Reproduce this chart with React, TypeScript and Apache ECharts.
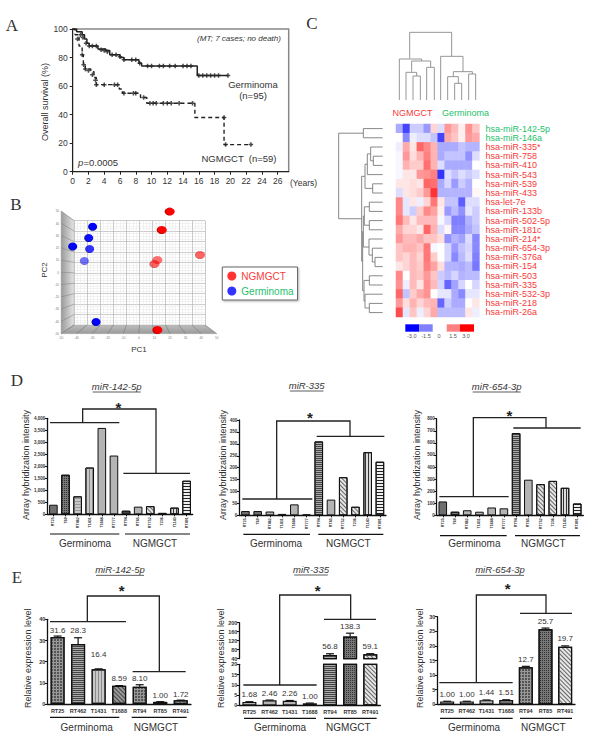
import React, { useEffect, useRef } from "react";
import * as echarts from "echarts";

// ---------- Data ----------
const germSteps = [[0,100],[0.5,98],[1.2,96],[1.5,93],[1.8,90],[2.1,88],[3.2,86],[4.2,85],[4.7,82],[6,80],[6.5,78.5],[8.4,76],[8.75,74],[15.8,67.5],[19.7,67.5]];
const ngSteps = [[0,100],[0.3,96],[0.8,88],[1.2,82],[1.35,75],[1.6,72],[2.3,70],[2.7,66],[3,61],[5.9,58],[6.3,55],[8.6,52],[9.4,48],[15.5,38],[19.2,19],[22.7,19]];
const germCensor = [[1.0,96],[1.3,94],[1.7,90],[2.1,88],[2.5,88],[3,88],[3.6,85.5],[4,85],[4.4,84],[5,82],[5.5,82],[6,80.5],[6.5,78.5],[7.5,78.5],[8,78.5],[8.5,76],[9.5,74],[10,74],[11,74],[11.5,74],[12.3,74],[13,74],[14,74],[14.5,74],[15,74],[16,67.5],[16.5,67.5],[17,67.5],[17.5,67.5],[18,67.5],[18.5,67.5],[19.7,67.5]];
const ngCensor = [[0.6,93],[1.2,82],[1.4,75],[1.6,72],[2,71],[2.5,68],[2.9,64],[3,61],[4,61],[5.3,61],[5.7,61],[6.5,55],[7.7,55],[8,55],[9,52],[9.8,48],[10.2,48],[10.6,48],[11.5,48],[12,48],[12.5,48],[13.5,48],[15.2,48],[19.2,38],[19.4,19],[22.6,19]];

const pcaRed = [[19.8,49.5,1],[14.7,34.5,1],[11.9,10.1,0.55],[10,6.8,0.6],[39.3,14.1,0.6],[11.9,-47,1]];
const pcaBlue = [[-29.7,37.2,1],[-32.2,28,0.95],[-42.5,21,1],[-31.6,19,0.8],[-35,9.2,0.55],[-27.5,-40.5,1]];

const mirnas = ["hsa-miR-142-5p","hsa-miR-146a","hsa-miR-335*","hsa-miR-758","hsa-miR-410","hsa-miR-543","hsa-miR-539","hsa-miR-433","hsa-let-7e","hsa-miR-133b","hsa-miR-502-5p","hsa-miR-181c","hsa-miR-214*","hsa-miR-654-3p","hsa-miR-376a","hsa-miR-154","hsa-miR-503","hsa-miR-335","hsa-miR-532-3p","hsa-miR-218","hsa-miR-26a"];
const heatRows = [
 [-1,-2.2,-0.6,-0.6,-1.2,0.5,-0.4,1.2,0.8,0.2,1.3,0.7],
 [0,-1.4,-0.2,-0.4,-0.4,-0.7,-2.2,1,0.7,0.2,1.2,1],
 [-0.2,1,0.3,1.8,1.4,0.9,-1,-1,-1,-0.7,-0.9,-0.9],
 [-0.1,1.2,0.4,0.9,1.5,0.9,-1,-0.7,-0.7,-0.7,-1.3,-0.4],
 [-0.1,0.9,0.6,0.6,1.7,0.9,-0.4,-1,-1,-1,-1,0],
 [-0.1,0.3,0.3,1.2,1.3,1.5,-2.4,-0.4,-0.7,-0.4,-0.6,-0.4],
 [0.3,0.3,0.4,0.3,1.8,1.7,-1,-0.5,-1.2,-0.6,-0.9,0],
 [-0.4,0.3,0.4,0.6,1.2,2.4,-0.9,-0.9,-0.9,-0.9,-0.9,0.1],
 [1.4,-0.3,0.3,-0.2,0.5,1.6,0.3,-0.7,-0.7,-1.9,-0.4,-0.4],
 [1.4,-0.3,-0.6,0.6,1.4,1.1,0.2,-1.2,-0.8,-1.3,-0.3,-0.6],
 [1.6,0.8,0.3,0.8,0.8,0.8,-0.1,-0.5,-1.5,-1.5,-0.9,-0.6],
 [1,0.5,0.5,0.3,1.8,0.9,-0.4,0.1,-1.4,-1.4,-1,-0.7],
 [1.2,0.8,0.8,1,0.7,0.7,0.4,-1.3,-0.9,-1.1,-0.4,-1.4],
 [0.7,0.9,0.9,0.7,1.6,-0.1,0,-0.5,-1.2,-0.7,-0.5,-1.4],
 [0.7,0.5,0.8,0.5,1.6,0.6,0,-0.5,-1.4,-0.8,-0.4,-1.5],
 [0.3,0.5,0.8,0.6,1.5,1.1,0.4,-0.9,-0.9,-1,-0.8,-1.6],
 [1.4,0,0.8,0.7,1.2,0.7,-0.6,-0.8,-0.5,-0.9,-0.8,-0.8],
 [1.3,-0.2,0.8,0.3,1.3,0.8,-0.5,-1.8,-1.1,-0.5,0,-0.5],
 [1.8,-0.7,0.6,1,1.3,0,-0.3,-0.3,-1,-1.4,-0.3,-0.3],
 [1.2,0.4,0.9,0.5,0.8,0.9,-1.8,-0.6,-1,-1,0,0.3],
 [2.1,-0.3,0.7,-0.2,0.5,1,-0.8,-0.8,-0.8,-0.8,0.3,-0.2],
];
const colorbarTicks = ["-3.0","-1.5","0","1.5","3.0"];

const d1Cats = ["RT25","T60","RT462","T1431","T1688","RT777","RT94","RT85","RT752","T236","T1143","RT491"];
const d1Vals = [400,1650,750,1950,3600,2450,150,320,340,60,280,1400];
const d2Vals = [18,18,16,6,46,4,310,66,160,36,265,225];
const d3Vals = [115,30,42,30,65,58,680,295,258,285,228,98];
const d1Hatch = ["dark","check","hLight","vLight","gray","gray","hDark","gray","diag","hLight","vDark","hBlack"];
const d2Hatch = ["dark","dark","gray","gray","gray","gray","hDark","gray","diag","diag","vDark","hBlack"];
const d3Hatch = ["dark","check","gray","gray","gray","gray","hDark","gray","diag","diag","vDark","hBlack"];

const eCats = ["RT25","RT462","T1431","T1688","RT94","RT85","RT491"];
const e1Vals = [31.6,28.3,16.4,8.59,8.10,1.00,1.72];
const e1Errs = [0.5,3,0.2,0.1,1,0.1,0.1];
const e1Text = ["31.6","28.3","16.4","8.59","8.10","1.00","1.72"];
const e2Vals = [1.68,2.46,2.26,1.00,56.8,138.3,59.1];
const e2Errs = [0.1,0.1,0.1,0.1,5,15,3];
const e2Text = ["1.68","2.46","2.26","1.00","56.8","138.3","59.1"];
const e3Vals = [1.00,1.00,1.44,1.51,12.7,25.7,19.7];
const e3Errs = [0.05,0.05,0.05,0.05,0.3,0.4,0.3];
const e3Text = ["1.00","1.00","1.44","1.51","12.7","25.7","19.7"];
const e1Hatch = ["grid","hDark","vLight","diagDark","grid","check","diag"];
const e2Hatch = ["gray","gray","gray","dark","hDark","check","diag"];
const e3Hatch = ["gray","gray","gray","dark","grid","check","diag"];

// ---------- Helpers ----------
const SANS = '"Liberation Sans", Arial, sans-serif';
const SERIF = '"Liberation Serif", serif';
const INK = "#333";
const fills: any = {
  dark: { c: "#6f6f6f" }, gray: { c: "#b4b4b4" },
  check: { c: "#777", d: { symbol: "rect", symbolSize: 1, dashArrayX: [1, 1], dashArrayY: [1, 1], color: "#333" } },
  hLight: { c: "#c8c8c8", d: { symbol: "rect", symbolSize: 1, dashArrayX: [1, 0], dashArrayY: [1, 1.5], color: "#999" } },
  vLight: { c: "#c8c8c8", d: { symbol: "rect", symbolSize: 1, dashArrayX: [1, 0], dashArrayY: [1, 1.5], rotation: Math.PI / 2, color: "#8a8a8a" } },
  hDark: { c: "#aaa", d: { symbol: "rect", symbolSize: 1, dashArrayX: [1, 0], dashArrayY: [1, 1], color: "#444" } },
  vDark: { c: "#ddd", d: { symbol: "rect", symbolSize: 1, dashArrayX: [1, 0], dashArrayY: [1, 1.5], rotation: Math.PI / 2, color: "#333" } },
  hBlack: { c: "#eee", d: { symbol: "rect", symbolSize: 1, dashArrayX: [1, 0], dashArrayY: [1, 2], color: "#222" } },
  diag: { c: "#e6e6e6", d: { symbol: "rect", symbolSize: 1, dashArrayX: [1, 0], dashArrayY: [1, 1.5], rotation: Math.PI / 4, color: "#666" } },
  diagDark: { c: "#999", d: { symbol: "rect", symbolSize: 1, dashArrayX: [1, 0], dashArrayY: [1, 1.5], rotation: Math.PI / 4, color: "#444" } },
  grid: { c: "#999", d: { symbol: "rect", symbolSize: 1, dashArrayX: [2, 1], dashArrayY: [2, 1], color: "#555" } },
};

function buildOption() {
  const grids: any[] = [], xAxes: any[] = [], yAxes: any[] = [], series: any[] = [], gfx: any[] = [];

  const text = (x: number, y: number, t: string, size: number, o: any = {}) =>
    gfx.push({
      type: "text", x, y, rotation: o.rot || 0, z: 20, silent: true,
      style: {
        text: t, fill: o.fill || INK, textAlign: o.align || "center", textVerticalAlign: "middle", verticalAlign: "middle",
        font: `${o.style || "normal"} ${o.weight || "normal"} ${size}px ${o.family || SANS}`,
      },
    });
  const poly = (pts: number[][], color: string, width = 1.4) =>
    gfx.push({ type: "polyline", z: 15, silent: true, shape: { points: pts }, style: { stroke: color, lineWidth: width, fill: "none" } });

  // panel letters
  text(12, 25, "A", 17, { family: SERIF });
  text(16, 204, "B", 17, { family: SERIF });
  text(312, 23, "C", 17, { family: SERIF });
  text(17, 380, "D", 17, { family: SERIF });
  text(17, 577, "E", 17, { family: SERIF });

  // ---------- Panel A ----------
  {
    const g = grids.length;
    grids.push({ left: 72.7, top: 29, width: 216, height: 142.7, show: true, borderColor: "#888", borderWidth: 1.5, backgroundColor: "transparent" });
    const lab = { color: INK, fontSize: 8.5, fontFamily: SANS, margin: 5 };
    xAxes.push({ gridIndex: g, type: "value", min: 0, max: 27.4, interval: 2, splitLine: { show: false }, axisLine: { onZero: false, lineStyle: { color: "#222" } }, axisTick: { length: 3, lineStyle: { color: "#222" } }, axisLabel: { ...lab, showMaxLabel: false } });
    yAxes.push({ gridIndex: g, type: "value", min: 0, max: 100, interval: 20, splitLine: { show: false }, axisLine: { show: true, onZero: false, lineStyle: { color: "#222" } }, axisTick: { show: true, length: 3, lineStyle: { color: "#222" } }, axisLabel: lab });
    const x = xAxes.length - 1, y = yAxes.length - 1;
    const plus = "path://M-1,-3H1V-1H3V1H1V3H-1V1H-3V-1H-1Z";
    series.push({ type: "line", name: "Germinoma survival", xAxisIndex: x, yAxisIndex: y, step: "end", showSymbol: false, data: germSteps, lineStyle: { color: "#222", width: 1.5 } });
    series.push({ type: "line", name: "NGMGCT survival", xAxisIndex: x, yAxisIndex: y, step: "end", showSymbol: false, data: ngSteps, lineStyle: { color: "#222", width: 1.4, type: [4, 3] } });
    series.push({ type: "scatter", name: "Germinoma censored", xAxisIndex: x, yAxisIndex: y, symbol: plus, symbolSize: 4.5, data: germCensor, itemStyle: { color: "#222" } });
    series.push({ type: "scatter", name: "NGMGCT censored", xAxisIndex: x, yAxisIndex: y, symbol: plus, symbolSize: 4.5, data: ngCensor, itemStyle: { color: "#222" } });
    text(45, 102, "Overall survival (%)", 9, { rot: Math.PI / 2 });
    text(239, 38, "(MT; 7 cases; no death)", 8, { style: "italic" });
    text(253, 84, "Germinoma", 9.5);
    text(253, 95, "(n=95)", 9.5);
    text(239, 158, "NGMGCT  (n=59)", 9.5);
    text(78, 162, "p", 9.5, { style: "italic", align: "left" });
    text(83.5, 162, "=0.0005", 9.5, { align: "left" });
    text(290, 182.7, "(Years)", 8.5, { align: "left" });
  }

  // ---------- Panel B ----------
  {
    const z = (a: number, b: number) => [a / 3, 190 + b / 3];
    gfx.push({
      type: "polygon", z: -1, silent: true,
      shape: { points: [z(183, 63), z(222, 92), z(222, 405), z(183, 431)] },
      style: { fill: new echarts.graphic.LinearGradient(0, 0, 1, 0, [{ offset: 0, color: "#999" }, { offset: 1, color: "#e4e4e4" }]), stroke: "#bbb", lineWidth: 0.5 },
    });
    gfx.push({
      type: "polygon", z: -1, silent: true,
      shape: { points: [z(222, 405), z(615, 405), z(650, 431), z(183, 431)] },
      style: { fill: new echarts.graphic.LinearGradient(0, 0, 0, 1, [{ offset: 0, color: "#bdbdbd" }, { offset: 1, color: "#9a9a9a" }]), stroke: "#aaa", lineWidth: 0.5 },
    });
    for (let k = 0; k <= 10; k++) {
      gfx.push({ type: "polyline", z: 1, silent: true, shape: { points: [z(183, 63 + 36.8 * k), z(222, 92 + 31.3 * k)] }, style: { stroke: "#888", lineWidth: 0.6, fill: "none" } });
      gfx.push({ type: "polyline", z: 1, silent: true, shape: { points: [z(222 + 39.3 * k, 405), z(183 + 46.7 * k, 431)] }, style: { stroke: "#777", lineWidth: 0.6, fill: "none" } });
    }
    // back wall
    let g = grids.length;
    grids.push({ left: 74, top: 220.7, width: 131, height: 104.3 });
    const wall = () => ({ gridIndex: g, type: "value", min: 0, max: 10, interval: 1, axisLine: { show: false }, axisTick: { show: false }, axisLabel: { show: false }, splitLine: { show: true, lineStyle: { color: "#b5b5b5", width: 0.7 } }, minorSplitLine: { show: true, lineStyle: { color: "#e6e6e6", width: 0.5 } }, minorTick: { show: false, splitNumber: 4 } });
    xAxes.push(wall()); yAxes.push(wall());

    // front plane holding the points
    g = grids.length;
    grids.push({ left: 61, top: 211, width: 155.7, height: 122.7 });
    const tiny = { color: "#777", fontSize: 3, fontFamily: SANS, margin: 2 };
    xAxes.push({ gridIndex: g, type: "value", min: -50, max: 50, interval: 10, splitLine: { show: false }, axisLine: { show: false, onZero: false }, axisTick: { show: false }, axisLabel: tiny });
    yAxes.push({ gridIndex: g, type: "value", min: -50, max: 50, interval: 10, splitLine: { show: false }, axisLine: { show: false, onZero: false }, axisTick: { show: false }, axisLabel: tiny });
    const x = xAxes.length - 1, y = yAxes.length - 1;
    const ball = (c: string, dk: string) => ({ type: "radial", x: 0.6, y: 0.45, r: 0.65, colorStops: [{ offset: 0, color: c }, { offset: 0.65, color: c }, { offset: 1, color: dk }] });
    series.push({
      type: "scatter", name: "NGMGCT", xAxisIndex: x, yAxisIndex: y, symbol: "circle", symbolSize: [10, 8], z: 5,
      itemStyle: { color: "#f00" },
      data: pcaRed.map((p) => ({ value: [p[0], p[1]], itemStyle: { color: ball("#f00", "#800"), opacity: p[2] } })),
    });
    series.push({
      type: "scatter", name: "Germinoma", xAxisIndex: x, yAxisIndex: y, symbol: "circle", symbolSize: [9, 8], z: 5,
      itemStyle: { color: "#00e" },
      data: pcaBlue.map((p) => ({ value: [p[0], p[1]], itemStyle: { color: ball("#00f", "#006"), opacity: p[2] } })),
    });
    text(139, 349, "PC1", 8);
    text(44, 270, "PC2", 8, { rot: Math.PI / 2 });
  }

  // ---------- Panel C ----------
  {
    const g = grids.length;
    grids.push({ left: 396, top: 124, width: 83.4, height: 193 });
    xAxes.push({ gridIndex: g, type: "category", data: heatRows[0].map((_, i) => String(i)), show: false });
    yAxes.push({
      gridIndex: g, type: "category", inverse: true, position: "right", data: mirnas, axisLine: { show: false }, axisTick: { show: false }, splitLine: { show: false },
      axisLabel: { interval: 0, margin: 6, fontSize: 9, fontFamily: SANS, color: (v: string) => (v === "hsa-miR-142-5p" || v === "hsa-miR-146a" ? "#25bf6b" : "#f83a3a") },
    });
    const data: any[] = [];
    heatRows.forEach((r, i) => r.forEach((v, j) => data.push([j, i, v])));
    series.push({ type: "heatmap", name: "expression", xAxisIndex: xAxes.length - 1, yAxisIndex: yAxes.length - 1, data, itemStyle: { borderWidth: 0 } });

    text(412.5, 113, "NGMGCT", 9, { fill: "#f83a3a" });
    text(465.5, 113, "Germinoma", 9, { fill: "#25bf6b" });

    // column dendrogram
    const t = (pts: number[][]) => poly(pts.map(([a, b]) => [310 + a / 3, b / 3]), "#8a8a8a", 0.9);
    t([[299, 175], [299, 97], [425, 97], [425, 168]]);
    t([[268, 300], [268, 177], [335, 177], [335, 183]]);
    t([[305, 215], [305, 183], [362, 183], [362, 202]]);
    t([[350, 300], [350, 202], [373, 202], [373, 300]]);
    t([[288, 300], [288, 217], [320, 217], [320, 228]]);
    t([[309, 300], [309, 228], [331, 228], [331, 300]]);
    t([[392, 300], [392, 169], [459, 169], [459, 215]]);
    t([[430, 230], [430, 215], [487, 215], [487, 222]]);
    t([[476, 300], [476, 222], [497, 222], [497, 300]]);
    t([[413, 300], [413, 230], [445, 230], [445, 250]]);
    t([[434, 300], [434, 250], [455, 250], [455, 300]]);

    // row dendrogram (nested merges, with leaf = row index)
    const rowY = (i: number) => -4.2 + 27.6 * i;
    const R = (pts: number[][]) => poly(pts.map(([a, b]) => [310 + a / 3, 130 + b / 3]), "#7a7a7a", 0.9);
    const walk = (n: any): { x: number; y: number } => {
      if (typeof n === "number") return { x: 218, y: rowY(n) };
      const a = walk(n[1]), b = walk(n[2]);
      R([[a.x, a.y], [n[0], a.y], [n[0], b.y], [b.x, b.y]]);
      return { x: n[0], y: (a.y + b.y) / 2 };
    };
    walk([86, [160, 0, 1], [155,
      [165, [172, [182, 2, [190, 3, 4]], 5], [188, 6, 7]],
      [158,
        [160, [163, [178, 8, 9], [178, 10, 11]], [177, 12, [187, 13, [195, 14, 15]]]],
        [162, [178, 16, 17], [165, 18, [178, 19, 20]]]]]]);

    // colour key
    const keys = [[405.3, 14, "#0000ff"], [419.3, 13.4, "#8080ff"], [446.7, 13.3, "#ff8080"], [460, 14, "#ff0000"]];
    keys.forEach(([x, w, c]: any) => gfx.push({ type: "rect", z: 5, silent: true, shape: { x, y: 324.3, width: w, height: 7.4 }, style: { fill: c } }));
    [411.7, 426, 439, 453, 466].forEach((x, i) => text(x, 335.5, colorbarTicks[i], 5.5, { fill: "#555" }));
  }

  // ---------- Panels D and E ----------
  const addPanel = (p: any) => {
    const { ox, oy } = p;
    const Z = (pts: number[][]) => pts.map(([a, b]) => [ox + a / 3, oy + b / 3]);
    const left = ox + p.gx / 3, width = p.gw / 3;
    const bands = p.bands;
    bands.forEach((b: any, idx: number) => {
      const g = grids.length;
      grids.push({ left, width, top: oy + b.zTop / 3, height: (b.zBot - b.zTop) / 3 });
      const isBottom = idx === bands.length - 1;
      xAxes.push({
        gridIndex: g, type: "category", data: p.cats, show: isBottom,
        axisLine: { lineStyle: { color: "#111", width: 1.3 }, onZero: false }, axisTick: { show: p.tick !== false, length: 2, lineStyle: { color: "#111" }, alignWithLabel: true },
        axisLabel: { interval: 0, rotate: p.catRot || 0, fontSize: p.catSize, fontWeight: "bold", fontFamily: SANS, color: INK, margin: p.catMargin },
      });
      yAxes.push({
        gridIndex: g, type: "value", min: b.min, max: b.max, interval: b.interval, splitLine: { show: false },
        axisLine: { show: true, onZero: false, lineStyle: { color: "#111", width: 1.3 } }, axisTick: { show: true, length: 2.5, lineStyle: { color: "#111" } },
        axisLabel: { fontSize: p.valSize, fontWeight: "bold", fontFamily: SANS, color: INK, margin: 2 },
      });
      const x = xAxes.length - 1, y = yAxes.length - 1;
      series.push({
        type: "bar", name: p.title + " bars " + idx, xAxisIndex: x, yAxisIndex: y, barWidth: p.barW, clip: true,
        data: p.vals.map((v: number, i: number) => {
          const f = fills[p.hatch[i]];
          return { value: v, itemStyle: { color: f.c, decal: f.d || "none", borderColor: "#111", borderWidth: p.bw } };
        }),
      });
      if (p.errs) {
        const pts = p.vals.map((v: number, i: number) => [i, v, p.errs[i], p.labels[i], p.gaps ? p.gaps[i] : 7]).filter((d: any[]) => d[1] >= b.min && d[1] <= b.max);
        series.push({
          type: "custom", name: p.title + " error " + idx, xAxisIndex: x, yAxisIndex: y, clip: false, z: 6, data: pts,
          encode: { x: 0, y: 1 },
          renderItem: (_: any, api: any) => {
            const i = api.value(0), v = api.value(1), e = api.value(2);
            const top = api.coord([i, v + e]), base = api.coord([i, v]);
            const row = pts.find((d: any[]) => d[0] === i);
            return {
              type: "group",
              children: [
                { type: "line", shape: { x1: base[0], y1: base[1], x2: top[0], y2: top[1] }, style: { stroke: "#111", lineWidth: 1.2 } },
                { type: "line", shape: { x1: top[0] - 4, y1: top[1], x2: top[0] + 4, y2: top[1] }, style: { stroke: "#111", lineWidth: 1.2 } },
                { type: "text", x: top[0], y: top[1] - row[4], style: { text: row[3], fill: INK, font: `8px ${SANS}`, textAlign: "center", textVerticalAlign: "middle", verticalAlign: "middle" } },
              ],
            };
          },
        });
      }
    });
    // title
    const tx = ox + p.titleX / 3, ty = oy + p.titleY / 3;
    text(tx, ty, p.title, 9.5, { style: "italic" });
    const w = p.title.length * 2.4;
    poly([[tx - w, ty + 6], [tx + w, ty + 6]], "#333", 0.8);
    // y name
    text(ox + p.nameX / 3, oy + p.nameY / 3, p.yName, p.nameSize, { rot: Math.PI / 2 });
    // bracket
    const b = p.bracket;
    poly(Z([[b.l1, b.ly], [b.l2, b.ly]]), "#222", 1.3);
    poly(Z([[b.lx, b.ly], [b.lx, b.top], [b.rx, b.top], [b.rx, b.ry]]), "#222", 1.3);
    poly(Z([[b.r1, b.ry], [b.r2, b.ry]]), "#222", 1.3);
    const [sx, sy] = Z([p.star])[0];
    text(sx, sy + 2, "*", 15, { weight: "bold", fill: "#222" });
    // group lines and labels
    const gl = p.groups;
    poly(Z([[gl.g1, gl.y], [gl.g2, gl.y]]), "#111", 1.2);
    poly(Z([[gl.n1, gl.y], [gl.n2, gl.y]]), "#111", 1.2);
    text(ox + gl.gx / 3, oy + gl.ty / 3, "Germinoma", 10);
    text(ox + gl.nx / 3, oy + gl.ty / 3, "NGMGCT", 10);
  };

  const dCommon = { cats: d1Cats, catRot: 90, catSize: 3.6, catMargin: 3, valSize: 4.5, barW: 8.6, bw: 1, yName: "Array hybridization intensity", nameSize: 9 };
  addPanel({ ...dCommon, ox: 0, oy: 370, gx: 142, gw: 436, title: "miR-142-5p", titleX: 350, titleY: 48, nameX: 78, nameY: 285,
    bands: [{ zTop: 145, zBot: 433, min: 0, max: 4000, interval: 500 }], vals: d1Vals, hatch: d1Hatch, star: [355, 105],
    bracket: { l1: 150, l2: 358, ly: 158, lx: 248, top: 117, rx: 468, ry: 310, r1: 370, r2: 570 },
    groups: { g1: 150, g2: 358, n1: 375, n2: 570, y: 492, gx: 255, nx: 465, ty: 520 } });
  addPanel({ ...dCommon, ox: 200, oy: 370, gx: 118, gw: 440, title: "miR-335", titleX: 320, titleY: 45, nameX: 68, nameY: 285,
    bands: [{ zTop: 150, zBot: 436, min: 0, max: 400, interval: 50 }], vals: d2Vals, hatch: d2Hatch, star: [330, 137],
    bracket: { l1: 127, l2: 337, ly: 387, lx: 230, top: 153, rx: 450, ry: 199, r1: 350, r2: 553 },
    groups: { g1: 130, g2: 330, n1: 355, n2: 550, y: 493, gx: 228, nx: 445, ty: 520 } });
  addPanel({ ...dCommon, ox: 400, oy: 370, gx: 110, gw: 440, title: "miR-654-3p", titleX: 290, titleY: 48, nameX: 52, nameY: 285,
    bands: [{ zTop: 146, zBot: 436, min: 0, max: 800, interval: 100 }], vals: d3Vals, hatch: d3Hatch, star: [328, 130],
    bracket: { l1: 118, l2: 326, ly: 380, lx: 220, top: 143, rx: 438, ry: 174, r1: 340, r2: 542 },
    groups: { g1: 120, g2: 320, n1: 345, n2: 540, y: 497, gx: 223, nx: 430, ty: 520 } });

  const eCommon = { cats: eCats, catSize: 5.5, catMargin: 4, valSize: 5.5, barW: 14, bw: 1.2, yName: "Relative expression level", nameSize: 9, tick: false };
  addPanel({ ...eCommon, ox: 0, oy: 560, gx: 142, gw: 431, title: "miR-142-5p", titleX: 360, titleY: 28, nameX: 85, nameY: 295,
    bands: [{ zTop: 178, zBot: 432, min: 0, max: 40, interval: 10 }], vals: e1Vals, errs: e1Errs, labels: e1Text, gaps: [6, 7, 14, 7, 6, 6, 6], hatch: e1Hatch, star: [365, 85],
    bracket: { l1: 150, l2: 378, ly: 185, lx: 262, top: 108, rx: 478, ry: 335, r1: 398, r2: 557 },
    groups: { g1: 150, g2: 358, n1: 395, n2: 560, y: 472, gx: 260, nx: 468, ty: 502 } });
  addPanel({ ...eCommon, ox: 200, oy: 560, gx: 118, gw: 423, title: "miR-335", titleX: 333, titleY: 27, nameX: 62, nameY: 295,
    bands: [{ zTop: 188, zBot: 296, min: 40, max: 200, interval: 40 }, { zTop: 313, zBot: 436, min: 0, max: 20, interval: 5 }], vals: e2Vals, errs: e2Errs, labels: e2Text, hatch: e2Hatch, star: [353, 85],
    bracket: { l1: 130, l2: 350, ly: 375, lx: 239, top: 105, rx: 452, ry: 178, r1: 372, r2: 528 },
    groups: { g1: 132, g2: 348, n1: 372, n2: 530, y: 475, gx: 240, nx: 445, ty: 502 } });
  addPanel({ ...eCommon, ox: 400, oy: 560, gx: 112, gw: 413, title: "miR-654-3p", titleX: 300, titleY: 28, nameX: 60, nameY: 295,
    bands: [{ zTop: 170, zBot: 433, min: 0, max: 30, interval: 5 }], vals: e3Vals, errs: e3Errs, labels: e3Text, hatch: e3Hatch, star: [323, 78],
    bracket: { l1: 118, l2: 338, ly: 368, lx: 229, top: 105, rx: 438, ry: 160, r1: 360, r2: 516 },
    groups: { g1: 120, g2: 338, n1: 360, n2: 516, y: 475, gx: 222, nx: 430, ty: 502 } });

  const heatIdx = series.findIndex((s) => s.type === "heatmap");
  return {
    animation: false,
    backgroundColor: "#fff",
    textStyle: { fontFamily: SANS },
    legend: {
      show: true, orient: "vertical", left: 222.3, top: 267, padding: [4, 4, 4, 5], itemWidth: 9, itemHeight: 9, itemGap: 5,
      borderColor: "#666", borderWidth: 1, backgroundColor: "#fff", shadowColor: "rgba(0,0,0,0.3)", shadowBlur: 2, shadowOffsetX: 1, shadowOffsetY: 1,
      data: [
        { name: "NGMGCT", icon: "circle", itemStyle: { color: "#f00" }, textStyle: { color: "#f83a3a", fontSize: 10, fontFamily: SANS } },
        { name: "Germinoma", icon: "circle", itemStyle: { color: "#00f" }, textStyle: { color: "#25bf6b", fontSize: 10, fontFamily: SANS } },
      ],
      selectedMode: false,
    },
    visualMap: { show: false, min: -3, max: 3, seriesIndex: heatIdx, dimension: 2, inRange: { color: ["#0000ff", "#ffffff", "#ff0000"] } },
    grid: grids, xAxis: xAxes, yAxis: yAxes, series, graphic: { elements: gfx },
  };
}

export default function App() {
  const ref = useRef<HTMLDivElement>(null);
  useEffect(() => {
    const chart = echarts.init(ref.current!, null, { renderer: "svg" });
    chart.setOption(buildOption() as any);
    return () => chart.dispose();
  }, []);
  return <div ref={ref} style={{ position: "absolute", left: 0, top: 0, width: 600, height: 744 }} />;
}
